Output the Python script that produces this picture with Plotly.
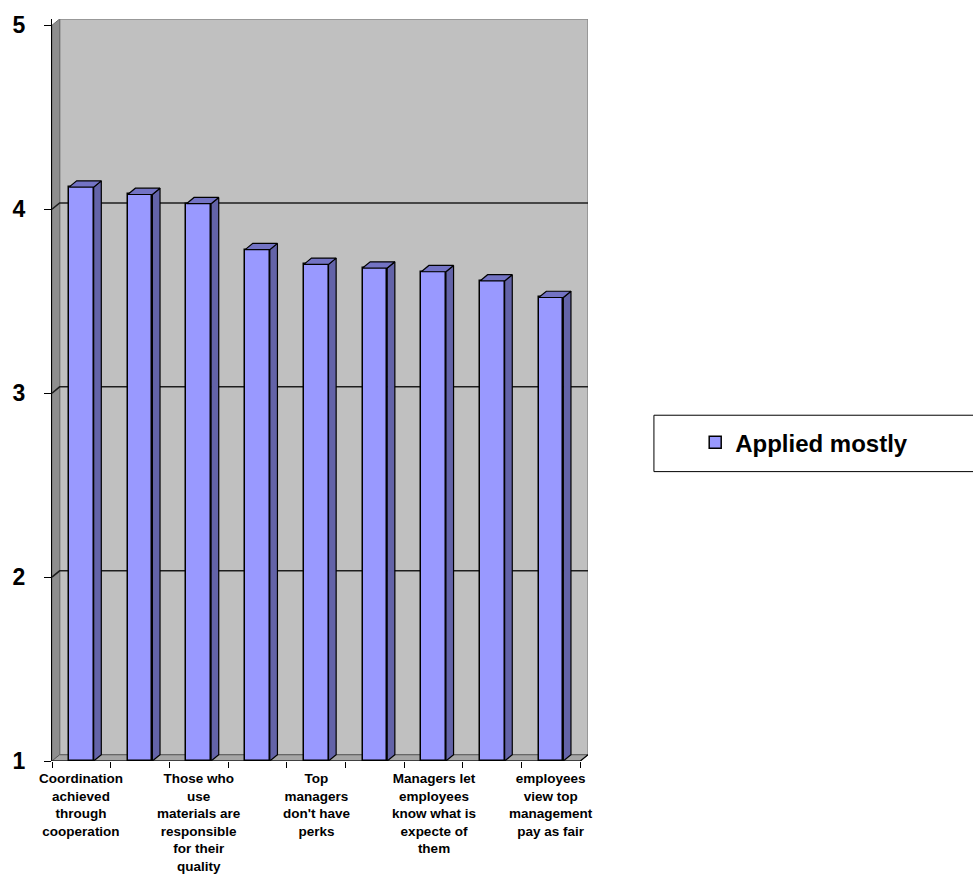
import plotly.graph_objects as go

# ---- data ----
categories = [
    "Coordination<br>achieved<br>through<br>cooperation",
    "",
    "Those who<br>use<br>materials are<br>responsible<br>for their<br>quality",
    "",
    "Top<br>managers<br>don't have<br>perks",
    "",
    "Managers let<br>employees<br>know what is<br>expecte of<br>them",
    "",
    "employees<br>view top<br>management<br>pay as fair",
]
values = [4.12, 4.08, 4.03, 3.78, 3.70, 3.68, 3.66, 3.61, 3.52]
series_name = "Applied mostly"
y_ticks = [1, 2, 3, 4, 5]

# ---- styling constants ----
FONT = "Arial, Liberation Sans, sans-serif"
FRONT = "#9999ff"
SIDE = "#6363a8"
TOP = "#7373c4"
W = 0.42          # bar width (category units)
DX = 0.13         # depth offset in x (category units)
DY = 0.034        # depth offset in y (value units)
YMIN, YMAX = 1, 5
n = len(values)
xs = list(range(n))
XL, XR = -0.5, n - 0.5

fig = go.Figure()

# front faces
fig.add_trace(go.Bar(
    x=xs, y=[v - YMIN for v in values], base=YMIN, width=W,
    marker=dict(color=FRONT, line=dict(color="black", width=1.5)),
    name=series_name, showlegend=True, hoverinfo="skip"))

# side faces and tops (computed from data values)
sx, sy, tx, ty = [], [], [], []
for x, v in zip(xs, values):
    r = x + W / 2
    l = x - W / 2
    sx += [r, r + DX, r + DX, r, r, None]
    sy += [YMIN, YMIN + DY, v + DY, v, YMIN, None]
    tx += [l, l + DX, r + DX, r, l, None]
    ty += [v, v + DY, v + DY, v, v, None]
fig.add_trace(go.Scatter(x=sx, y=sy, mode="lines", fill="toself", fillcolor=SIDE,
                         line=dict(color="black", width=1.2), showlegend=False, hoverinfo="skip"))
fig.add_trace(go.Scatter(x=tx, y=ty, mode="lines", fill="toself", fillcolor=TOP,
                         line=dict(color="black", width=1.2), showlegend=False, hoverinfo="skip"))

shapes = []
# back wall
shapes.append(dict(type="rect", xref="x", yref="y", x0=XL + DX, x1=XR + DX, y0=YMIN + DY, y1=YMAX + DY,
                   fillcolor="#c0c0c0", line=dict(color="#8a8a8a", width=1.5), layer="below"))
# left wall
shapes.append(dict(type="path", xref="x", yref="y",
                   path=f"M {XL},{YMIN} L {XL+DX},{YMIN+DY} L {XL+DX},{YMAX+DY} L {XL},{YMAX} Z",
                   fillcolor="#8e8e8e", line=dict(color="#6e6e6e", width=1), layer="below"))
# floor
shapes.append(dict(type="path", xref="x", yref="y",
                   path=f"M {XL},{YMIN} L {XR},{YMIN} L {XR+DX},{YMIN+DY} L {XL+DX},{YMIN+DY} Z",
                   fillcolor="#a6a6a6", line=dict(color="#5a5a5a", width=1), layer="below"))
# gridlines on left + back wall
for k in y_ticks[1:-1]:
    shapes.append(dict(type="path", xref="x", yref="y",
                       path=f"M {XL},{k} L {XL+DX},{k+DY} L {XR+DX},{k+DY}",
                       line=dict(color="#1e1e1e", width=1.5), layer="below"))
# front bottom edge
shapes.append(dict(type="line", xref="x", yref="y", x0=XL, x1=XR, y0=YMIN, y1=YMIN,
                   line=dict(color="black", width=1.2), layer="above"))
shapes.append(dict(type="line", xref="x", yref="y", x0=XR, x1=XR + DX, y0=YMIN, y1=YMIN + DY,
                   line=dict(color="black", width=1.2), layer="above"))
# legend box
shapes.append(dict(type="rect", xref="paper", yref="paper", x0=1.123, x1=1.75, y0=0.39, y1=0.466,
                   line=dict(color="black", width=1), fillcolor="white", layer="below"))

annotations = []
for x, c in zip(xs, categories):
    if c:
        annotations.append(dict(x=x, y=0, xref="x", yref="paper", yanchor="top", xanchor="center",
                                yshift=-8, text=c, showarrow=False, align="center",
                                font=dict(family=FONT, size=13.5, color="black", weight="bold")))

fig.update_layout(
    width=973, height=875,
    margin=dict(l=52, r=385, t=15, b=114),
    paper_bgcolor="white", plot_bgcolor="white",
    bargap=0,
    shapes=shapes, annotations=annotations,
    showlegend=True,
    legend=dict(x=1.2, y=0.429, xanchor="left", yanchor="middle",
                bgcolor="rgba(0,0,0,0)", borderwidth=0,
                font=dict(family=FONT, size=24, color="black", weight="bold")),
    xaxis=dict(range=[XL, XR + DX], tickvals=[i - 0.5 for i in range(n + 1)],
               showticklabels=False, ticks="outside", ticklen=6, tickcolor="black", tickwidth=1,
               showgrid=False, zeroline=False, showline=False, fixedrange=True),
    yaxis=dict(range=[YMIN, YMAX + DY], tickvals=y_ticks, ticks="outside", ticklen=7,
               tickcolor="black", tickwidth=1, showgrid=False, zeroline=False,
               showline=True, linecolor="black", linewidth=1,
               ticklabelstandoff=14,
               tickfont=dict(family=FONT, size=23, color="black", weight="bold")),
)

fig.write_html("out.html")
